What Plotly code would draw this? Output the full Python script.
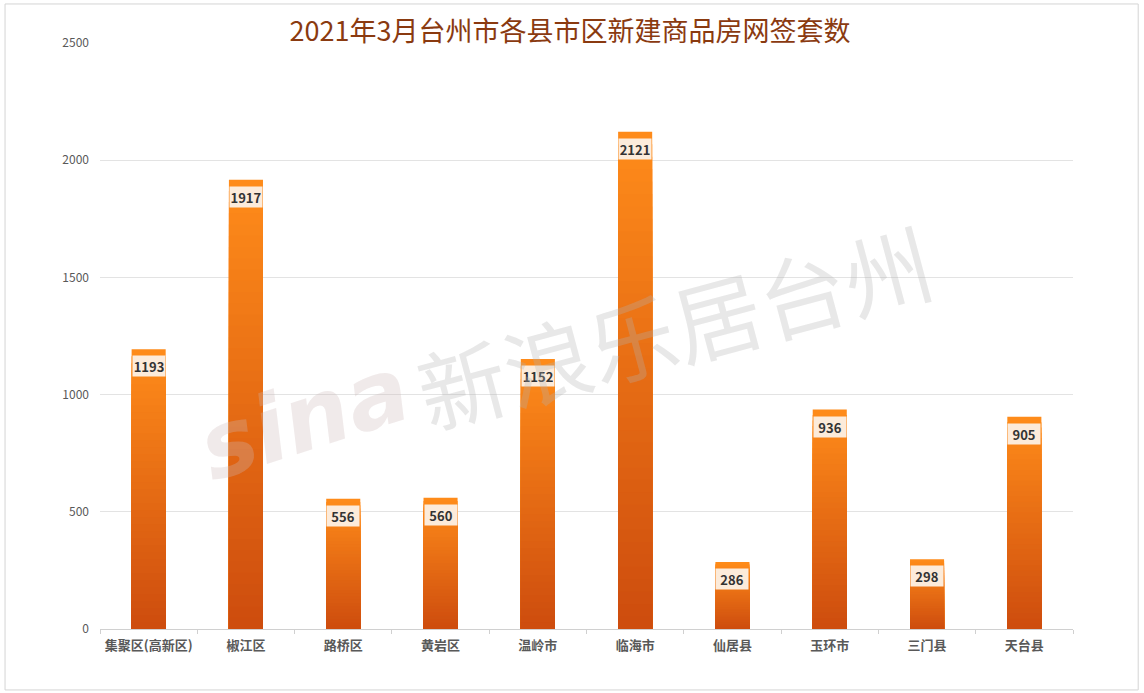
import plotly.graph_objects as go

categories = ["集聚区(高新区)", "椒江区", "路桥区", "黄岩区", "温岭市", "临海市", "仙居县", "玉环市", "三门县", "天台县"]
values = [1193, 1917, 556, 560, 1152, 2121, 286, 936, 298, 905]
y_ticks = [0, 500, 1000, 1500, 2000, 2500]
title_text = "2021年3月台州市各县市区新建商品房网签套数"

TOP = (255, 140, 26)
BOTTOM = (205, 76, 14)
N = 40


def mix(f):
    return "rgb(%d,%d,%d)" % tuple(round(b + (t - b) * f) for t, b in zip(TOP, BOTTOM))


fig = go.Figure()
for k in range(N):
    frac = 1 - k / N
    fig.add_trace(go.Bar(
        x=categories,
        y=[v * frac for v in values],
        width=0.35,
        marker=dict(color=mix(frac - 0.5 / N), line=dict(width=0)),
        hoverinfo="skip",
        showlegend=False,
    ))

for c, v in zip(categories, values):
    fig.add_annotation(
        x=c, y=v, yanchor="top", yshift=-6, text="<b>%d</b>" % v,
        showarrow=False, bgcolor="#FCEBDA", width=30, height=18,
        font=dict(family="Noto Sans CJK SC", size=13, color="#333333"),
    )

# watermark
fig.add_annotation(xref="paper", yref="paper", x=0.21, y=0.36, xanchor="center", yanchor="middle",
                   text="<i><b>sina</b></i>", showarrow=False, textangle=-18,
                   font=dict(family="DejaVu Sans", size=92, color="rgba(205,185,185,0.30)"))
fig.add_annotation(xref="paper", yref="paper", x=0.59, y=0.52, xanchor="center", yanchor="middle",
                   text="新浪乐居台州", showarrow=False, textangle=-15,
                   font=dict(family="Noto Sans CJK SC", size=88, color="rgba(180,180,180,0.30)"))

fig.add_shape(type="rect", xref="paper", yref="paper", x0=-0.0976, x1=1.067, y0=-0.104, y1=1.0666,
              line=dict(color="#D4D4D4", width=1), layer="below")

fig.update_layout(
    width=1144, height=693,
    margin=dict(l=100, r=71, t=43, b=64),
    paper_bgcolor="white", plot_bgcolor="white",
    barmode="overlay", bargap=0.65,
    title=dict(text=title_text, x=0.483, xref="paper", xanchor="center",
               y=1 - 32 / 693, yref="container", yanchor="middle",
               font=dict(family="Noto Sans CJK SC", size=27, color="#8A3A10")),
    xaxis=dict(
        tickfont=dict(family="Noto Sans CJK SC", size=13, color="#595959", weight="bold"),
        showline=True, linecolor="#D0D0D0", linewidth=1,
        ticks="outside", tickson="boundaries", ticklen=4, tickcolor="#D0D0D0",
        showgrid=False, ticklabelstandoff=4,
    ),
    yaxis=dict(
        range=[0, 2500], tickvals=y_ticks,
        tickfont=dict(family="Noto Sans CJK SC", size=12, color="#595959"),
        showgrid=True, gridcolor="#E3E3E3", gridwidth=1,
        zeroline=False, ticklabelstandoff=10,
    ),
)

fig.write_html("out.html")
